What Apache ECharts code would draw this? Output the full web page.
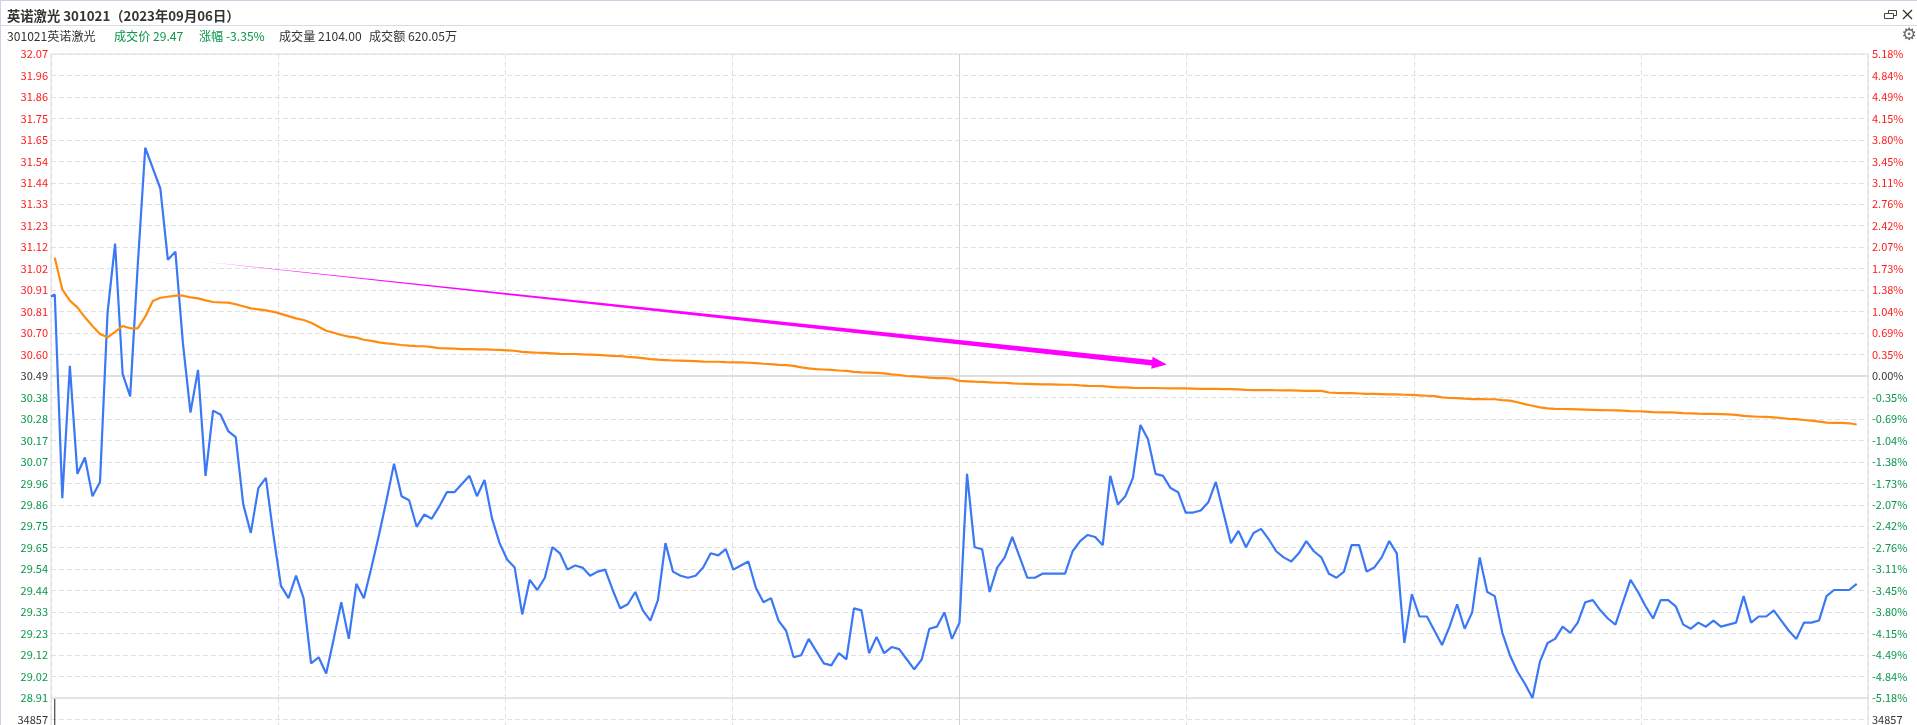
<!DOCTYPE html>
<html>
<head>
<meta charset="utf-8">
<style>html,body{margin:0;padding:0;background:#fff}#c{width:1917px;height:725px}</style>
<script src="https://cdn.jsdelivr.net/npm/echarts@6/dist/echarts.min.js"></script>
</head>
<body>
<div id="c"></div>
<script>
const titleText = '英诺激光 301021（2023年09月06日）';
const stockName = '301021英诺激光';
const lastPrice = '成交价 29.47';
const changeText = '涨幅 -3.35%';
const volumeText = '成交量 2104.00';
const amountText = '成交额 620.05万';

const priceTicks = ['32.07','31.96','31.86','31.75','31.65','31.54','31.44','31.33','31.23','31.12','31.02','30.91','30.81','30.70','30.60','30.49','30.38','30.28','30.17','30.07','29.96','29.86','29.75','29.65','29.54','29.44','29.33','29.23','29.12','29.02','28.91'];
const pctTicks = ['5.18%','4.84%','4.49%','4.15%','3.80%','3.45%','3.11%','2.76%','2.42%','2.07%','1.73%','1.38%','1.04%','0.69%','0.35%','0.00%','-0.35%','-0.69%','-1.04%','-1.38%','-1.73%','-2.07%','-2.42%','-2.76%','-3.11%','-3.45%','-3.80%','-4.15%','-4.49%','-4.84%','-5.18%'];
const volumeTick = 34857;
const openStub = 30.88;

const priceValues = [
30.89,29.89,30.54,30.01,30.09,29.90,29.97,30.80,31.14,30.50,
30.39,31.03,31.61,31.51,31.41,31.06,31.10,30.65,30.31,30.52,
30.00,30.32,30.30,30.22,30.19,29.86,29.72,29.94,29.99,29.71,
29.46,29.40,29.51,29.40,29.08,29.11,29.03,29.20,29.38,29.20,
29.47,29.40,29.55,29.71,29.88,30.06,29.90,29.88,29.75,29.81,
29.79,29.85,29.92,29.92,29.96,30.00,29.90,29.98,29.79,29.67,
29.59,29.55,29.32,29.49,29.44,29.50,29.65,29.62,29.54,29.56,
29.55,29.51,29.53,29.54,29.44,29.35,29.37,29.43,29.34,29.29,
29.39,29.67,29.53,29.51,29.50,29.51,29.55,29.62,29.61,29.64,
29.54,29.56,29.58,29.45,29.38,29.40,29.29,29.24,29.11,29.12,
29.20,29.14,29.08,29.07,29.13,29.10,29.35,29.34,29.13,29.21,
29.13,29.16,29.15,29.10,29.05,29.10,29.25,29.26,29.33,29.20,
29.28,30.01,29.65,29.64,29.43,29.55,29.60,29.70,29.60,29.50,
29.50,29.52,29.52,29.52,29.52,29.63,29.68,29.71,29.70,29.66,
30.00,29.86,29.90,29.99,30.25,30.18,30.01,30.00,29.94,29.92,
29.82,29.82,29.83,29.87,29.97,29.82,29.67,29.73,29.65,29.72,
29.74,29.69,29.63,29.60,29.58,29.62,29.68,29.63,29.60,29.52,
29.50,29.53,29.66,29.66,29.53,29.55,29.60,29.68,29.62,29.18,
29.42,29.31,29.31,29.24,29.17,29.26,29.37,29.25,29.33,29.60,
29.43,29.41,29.23,29.12,29.04,28.98,28.91,29.09,29.18,29.20,
29.26,29.23,29.28,29.38,29.39,29.34,29.30,29.27,29.38,29.49,
29.43,29.36,29.30,29.39,29.39,29.36,29.27,29.25,29.28,29.26,
29.29,29.26,29.27,29.28,29.41,29.28,29.31,29.31,29.34,29.29,
29.24,29.20,29.28,29.28,29.29,29.41,29.44,29.44,29.44,29.47];

const avgValues = [
31.07,30.915,30.86,30.827,30.778,30.735,30.696,30.68,30.707,30.735,
30.724,30.724,30.781,30.858,30.874,30.879,30.884,30.884,30.876,30.871,
30.861,30.853,30.851,30.85,30.842,30.832,30.822,30.817,30.812,30.805,
30.795,30.784,30.773,30.765,30.751,30.732,30.712,30.702,30.691,30.683,
30.678,30.668,30.662,30.655,30.65,30.647,30.642,30.639,30.637,30.636,
30.632,30.627,30.626,30.624,30.622,30.622,30.621,30.621,30.619,30.618,
30.616,30.614,30.608,30.606,30.604,30.603,30.601,30.599,30.598,30.598,
30.596,30.595,30.594,30.591,30.589,30.588,30.584,30.581,30.578,30.573,
30.57,30.568,30.566,30.565,30.564,30.563,30.561,30.56,30.56,30.558,
30.557,30.557,30.555,30.553,30.55,30.548,30.545,30.543,30.54,30.532,
30.527,30.524,30.522,30.52,30.517,30.515,30.51,30.508,30.507,30.505,
30.503,30.498,30.495,30.49,30.488,30.485,30.482,30.48,30.48,30.477,
30.466,30.464,30.462,30.461,30.459,30.457,30.457,30.454,30.452,30.451,
30.45,30.449,30.449,30.448,30.447,30.447,30.444,30.442,30.441,30.44,
30.437,30.434,30.434,30.432,30.431,30.431,30.431,30.43,30.429,30.429,
30.429,30.428,30.427,30.427,30.427,30.426,30.426,30.424,30.422,30.421,
30.421,30.421,30.42,30.419,30.419,30.418,30.417,30.417,30.417,30.409,
30.407,30.406,30.406,30.404,30.402,30.402,30.401,30.4,30.4,30.398,
30.397,30.395,30.393,30.391,30.385,30.382,30.381,30.379,30.377,30.377,
30.376,30.376,30.372,30.369,30.361,30.352,30.344,30.336,30.331,30.329,
30.328,30.327,30.326,30.325,30.324,30.323,30.322,30.321,30.32,30.318,
30.317,30.315,30.313,30.312,30.312,30.31,30.308,30.307,30.305,30.304,
30.304,30.303,30.302,30.299,30.294,30.292,30.29,30.289,30.287,30.284,
30.28,30.278,30.274,30.271,30.266,30.261,30.26,30.26,30.258,30.252];

const volumeValues = [41500];
const arrowLine = [20.4, 31.05, 148.0, 30.547];

const SLOTS = 241, DIVISIONS = 8, PRICE_MIN = 28.91, PRICE_MAX = 32.07, PRICE_MID = 30.49, PCT = 5.18;
const RED = '#ff1a1a', GREEN = '#08964a', DARK = '#333333';
const DASH = {color:'#e0e0e0', width:1, type:[5,3]};
const numFont = '"Noto Sans CJK SC","Noto Sans",sans-serif';

const n = priceTicks.length - 1;
const pricePos = priceTicks.map((_, i) => i === 0 ? PRICE_MAX : i === n ? PRICE_MIN : PRICE_MAX - (PRICE_MAX - PRICE_MIN) * i / n);
const pctPos = pctTicks.map((_, i) => i === 0 ? PCT : i === n ? -PCT : PCT - 2 * PCT * i / n);
const nearest = (arr, v) => { let b = 0; arr.forEach((p, i) => { if (Math.abs(p - v) < Math.abs(arr[b] - v)) b = i; }); return b; };
const tickColor = arr => v => { const i = nearest(arr, Number(v)); return i < n / 2 ? RED : i > n / 2 ? GREEN : DARK; };

const bluePts = [[0, openStub]].concat(priceValues.map((v, i) => [i + 0.5, v]));
const avgPts = avgValues.map((v, i) => [i + 0.5, v]);

const xAxisBase = grid => ({
  type:'value', gridIndex:grid, min:0, max:SLOTS, interval:SLOTS/DIVISIONS,
  axisLine:{show:false}, axisTick:{show:false}, axisLabel:{show:false},
  splitLine:{show:true, lineStyle:DASH}
});

const text = (x, y, t, color, size, weight) => ({
  type:'text', x, y, silent:true,
  style:{text:t, fill:color, font:(weight||'normal')+' '+size+'px "Noto Sans CJK SC",sans-serif', textVerticalAlign:'middle'}
});
const rect = (x, y, w, h, fill) => ({type:'rect', silent:true, shape:{x,y,width:w,height:h}, style:{fill}});
const line = (x1,y1,x2,y2,stroke,w) => ({type:'line', silent:true, shape:{x1,y1,x2,y2}, style:{stroke,lineWidth:w}});
const boxStroke = (x,y,w,h) => ({type:'rect', silent:true, shape:{x,y,width:w,height:h}, style:{fill:'#fff',stroke:'#444',lineWidth:1}});

const option = {
  animation:false,
  backgroundColor:'#ffffff',
  grid:[
    {left:51, right:49, top:54, height:644, outerBoundsMode:'none', show:true, borderColor:'#dcdde4', borderWidth:1, backgroundColor:'transparent'},
    {left:51, right:49, top:698, height:128.8, outerBoundsMode:'none', show:true, borderColor:'#dcdde4', borderWidth:1, backgroundColor:'transparent'}
  ],
  xAxis:[xAxisBase(0), xAxisBase(1)],
  yAxis:[
    {type:'value', gridIndex:0, position:'left', min:PRICE_MIN, max:PRICE_MAX,
     axisLine:{show:false}, axisTick:{show:false, customValues:pricePos},
     axisLabel:{customValues:pricePos, margin:3, fontSize:11, fontFamily:numFont, color:tickColor(pricePos),
       formatter:v => priceTicks[nearest(pricePos, v)]},
     splitLine:{show:true, lineStyle:DASH}},
    {type:'value', gridIndex:0, position:'right', min:-PCT, max:PCT,
     axisLine:{show:false}, axisTick:{show:false, customValues:pctPos},
     axisLabel:{customValues:pctPos, margin:4, fontSize:11, fontFamily:numFont, color:tickColor(pctPos),
       formatter:v => pctTicks[nearest(pctPos, v)]},
     splitLine:{show:false}},
    {type:'value', gridIndex:1, position:'left', min:0, max:volumeTick*6/5, interval:volumeTick/5,
     axisLine:{show:false}, axisTick:{show:false},
     axisLabel:{margin:3, fontSize:11, fontFamily:numFont, color:DARK,
       formatter:v => Math.abs(v - volumeTick) < 1 ? String(volumeTick) : ''},
     splitLine:{show:true, lineStyle:DASH}},
    {type:'value', gridIndex:1, position:'right', min:0, max:volumeTick*6/5, interval:volumeTick/5,
     axisLine:{show:false}, axisTick:{show:false},
     axisLabel:{margin:4, fontSize:11, fontFamily:numFont, color:DARK,
       formatter:v => Math.abs(v - volumeTick) < 1 ? String(volumeTick) : ''},
     splitLine:{show:false}}
  ],
  series:[
    {name:'价格', type:'line', xAxisIndex:0, yAxisIndex:0, data:bluePts, showSymbol:false, symbol:'none', z:4,
     lineStyle:{color:'#3b78f6', width:2.2}, itemStyle:{color:'#3b78f6'},
     markLine:{silent:true, symbol:'none', label:{show:false}, animation:false, z:1,
       data:[
         {yAxis:PRICE_MID, lineStyle:{color:'#dedede', width:2, type:'solid'}},
         {xAxis:SLOTS/2, lineStyle:{color:'#d4d4d8', width:1, type:'solid'}}
       ]}},
    {name:'均价', type:'line', xAxisIndex:0, yAxisIndex:0, data:avgPts, showSymbol:false, symbol:'none', z:5,
     lineStyle:{color:'#ff8c10', width:2.2}, itemStyle:{color:'#ff8c10'}},
    {name:'箭头', type:'custom', xAxisIndex:0, yAxisIndex:0, data:[arrowLine], z:6, silent:true, clip:false,
     renderItem:(params, api) => {
       const a = api.coord([api.value(0), api.value(1)]);
       const b = api.coord([api.value(2), api.value(3)]);
       const dx = b[0]-a[0], dy = b[1]-a[1], L = Math.hypot(dx, dy), ux = dx/L, uy = dy/L, nx = -uy, ny = ux;
       const headLen = 15, headHalf = 6, shaftHalf = 2.7;
       const bx = b[0]-ux*headLen, by = b[1]-uy*headLen;
       return {type:'polygon', shape:{points:[
         a,
         [bx+nx*shaftHalf, by+ny*shaftHalf],
         [bx+nx*headHalf, by+ny*headHalf],
         b,
         [bx-nx*headHalf, by-ny*headHalf],
         [bx-nx*shaftHalf, by-ny*shaftHalf]
       ]}, style:{fill:'#ff00ff'}};
     }},
    {name:'成交量', type:'bar', xAxisIndex:1, yAxisIndex:2, barWidth:1, z:4,
     data:volumeValues.map((v, i) => [i + 0.5, v]), itemStyle:{color:'#222222'},
     markLine:{silent:true, symbol:'none', label:{show:false}, animation:false,
       data:[{xAxis:SLOTS/2, lineStyle:{color:'#d4d4d8', width:1, type:'solid'}}]}}
  ],
  graphic:[
    rect(0,0,1917,1,'#ccd3e6'),
    rect(0,0,1,725,'#ccd3e6'),
    rect(0,25,1917,1,'#d6d9e6'),
    text(7,16,titleText,'#333333',13.3,'bold'),
    text(7,36,stockName,DARK,12.1),
    text(114,36,lastPrice,GREEN,12.1),
    text(199,36,changeText,GREEN,12.1),
    text(279,36,volumeText,DARK,12.1),
    text(369,36,amountText,DARK,12.1),
    boxStroke(1888.5,10.5,8,5),
    boxStroke(1884.5,13.5,9,5),
    line(1903,10,1912,19,'#333',1.2),
    line(1912,10,1903,19,'#333',1.2),
    {type:'text', x:1909, y:36, silent:true, style:{text:'⚙', fill:'#666', font:'17px "DejaVu Sans"', textAlign:'center', textVerticalAlign:'middle'}}
  ]
};
const chart = echarts.init(document.getElementById('c'), null, {renderer:'canvas', width:1917, height:725});
chart.setOption(option);
</script>
</body>
</html>
